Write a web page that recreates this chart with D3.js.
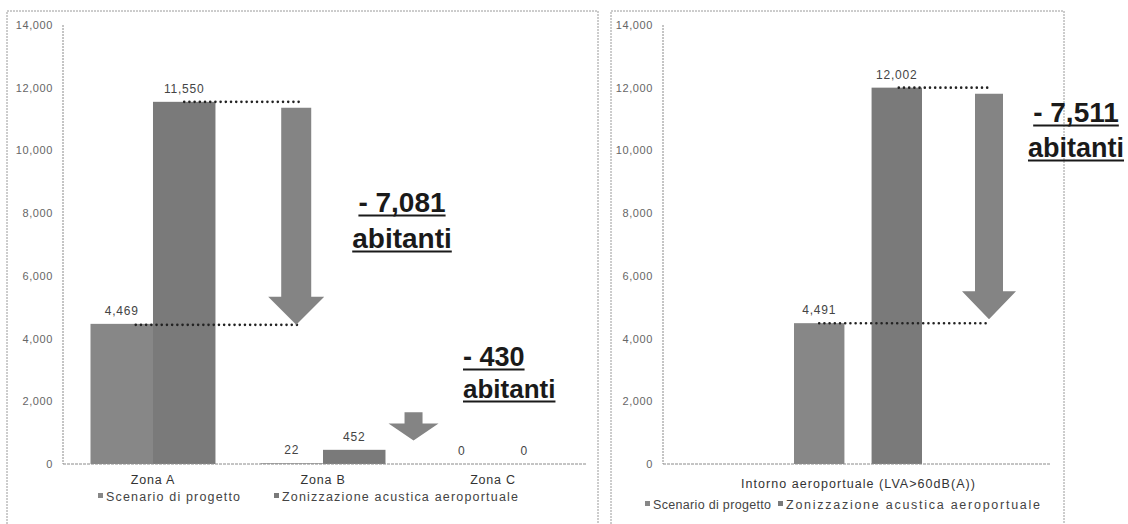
<!DOCTYPE html>
<html>
<head>
<meta charset="utf-8">
<script src="https://cdn.jsdelivr.net/npm/d3@7"></script>
<style>
  html, body { margin: 0; padding: 0; background: #ffffff; }
  svg { display: block; font-family: "Liberation Sans", Arial, sans-serif; }
</style>
</head>
<body>
<svg id="chart" width="1128" height="524"></svg>
<script>
// ---------------- DATA ----------------
const seriesNames = ["Scenario di progetto", "Zonizzazione acustica aeroportuale"];

const zoneCategories = ["Zona A", "Zona B", "Zona C"];
const zoneScenario   = [4469, 22, 0];
const zoneZonizz     = [11550, 452, 0];

const airportCategories = ["Intorno aeroportuale (LVA>60dB(A))"];
const airportScenario   = [4491];
const airportZonizz     = [12002];

const yTickValues = [0, 2000, 4000, 6000, 8000, 10000, 12000, 14000];
const yMax = 14000;

const deltaLabels = ["- 7,081", "- 430", "- 7,511"];
const deltaUnit = "abitanti";
// small decorative arrow for Zona B (value range it spans)
const smallArrowValues = [1650, 750];

// ---------------- STYLE ----------------
const colScenario = "#878787";
const colZonizz   = "#7a7a7a";
const colArrow    = "#848484";
const colAxisTxt  = "#666";
const fmt = d3.format(",");

const svg = d3.select("#chart");

// panel frames (dotted, scanned look)
function frame(x0, x1, yTop, yBot) {
  svg.append("path")
    .attr("d", `M${x0},${yBot} L${x0},${yTop} L${x1},${yTop} L${x1},${yBot}`)
    .attr("fill", "none").attr("stroke", "#9a9a9a").attr("stroke-width", 1)
    .attr("stroke-dasharray", "2,1");
}
frame(7, 598, 11, 524);
frame(611, 1064, 11, 524);

const y = d3.scaleLinear().domain([0, yMax]).range([464, 25]);

function drawPanel(cfg) {
  const g = svg.append("g");
  const x0 = cfg.x0, x1 = cfg.x1;

  // y axis
  const ax = g.append("g").attr("transform", `translate(${cfg.axisX},0)`)
    .call(d3.axisLeft(y).tickValues(yTickValues).tickSize(0).tickPadding(10).tickFormat(fmt));
  ax.select(".domain").remove();
  ax.selectAll("text").attr("font-size", 11).attr("fill", colAxisTxt)
    .attr("font-family", "Liberation Sans, Arial, sans-serif").attr("letter-spacing", 0.6);
  g.append("line").attr("x1", cfg.axisX).attr("x2", cfg.axisX)
    .attr("y1", y(yMax)).attr("y2", y(0))
    .attr("stroke", "#8a8a8a").attr("stroke-width", 1).attr("stroke-dasharray", "2,1");

  // bars
  const rows = cfg.categories.map((c, i) => ({ cat: c, vals: [cfg.s1[i], cfg.s2[i]] }));
  const cols = [colScenario, colZonizz];
  const grp = g.selectAll(".cat").data(rows).join("g")
    .attr("transform", d => `translate(${x0(d.cat)},0)`);
  grp.selectAll("rect").data(d => d.vals.map((v, k) => ({ v, k }))).join("rect")
    .attr("x", d => x1(d.k)).attr("width", x1.bandwidth())
    .attr("y", d => y(d.v)).attr("height", d => y(0) - y(d.v))
    .attr("fill", d => cols[d.k]);
  grp.selectAll("text.val").data(d => d.vals.map((v, k) => ({ v, k }))).join("text")
    .attr("class", "val")
    .attr("x", d => x1(d.k) + x1.bandwidth() / 2)
    .attr("y", d => y(d.v) - 9)
    .attr("text-anchor", "middle").attr("font-size", 12).attr("fill", "#444")
    .attr("letter-spacing", 0.8)
    .text(d => fmt(d.v));

  // x axis baseline
  g.append("line").attr("x1", cfg.axisX).attr("x2", cfg.baseEnd)
    .attr("y1", y(0)).attr("y2", y(0))
    .attr("stroke", "#8a8a8a").attr("stroke-width", 1).attr("stroke-dasharray", "3,1");

  const xa = g.append("g").attr("transform", `translate(0,${y(0)})`)
    .call(d3.axisBottom(x0).tickSize(0).tickPadding(11));
  xa.select(".domain").remove();
  xa.selectAll("text").attr("font-size", 12.5).attr("fill", "#333")
    .attr("font-family", "Liberation Sans, Arial, sans-serif")
    .attr("dy", cfg.labelDy);
  if (cfg.labelLen) {
    xa.selectAll("text").attr("textLength", cfg.labelLen).attr("lengthAdjust", "spacing");
  } else {
    xa.selectAll("text").attr("letter-spacing", 0.8);
  }

  // legend
  const lg = g.append("g").attr("transform", `translate(0,${cfg.legendY})`);
  cfg.legendX.forEach((lx, k) => {
    lg.append("rect").attr("x", lx).attr("y", -4).attr("width", 5).attr("height", 5)
      .attr("fill", cols[k]);
    lg.append("text").attr("x", lx + 8).attr("y", 4)
      .attr("font-size", 12.5).attr("fill", "#444")
      .attr("textLength", cfg.legendLen[k]).attr("lengthAdjust", "spacing")
      .text(seriesNames[k]);
  });
  return g;
}

function dotted(x1p, x2p, yy) {
  svg.append("line").attr("x1", x1p).attr("x2", x2p).attr("y1", yy).attr("y2", yy)
    .attr("stroke", "#222").attr("stroke-width", 2.6)
    .attr("stroke-linecap", "round").attr("stroke-dasharray", "0,5.2");
}

function arrow(cx, yTop, yTip, shaftW, headW, headH) {
  const s = shaftW / 2, h = headW / 2, yh = yTip - headH;
  svg.append("path")
    .attr("d", `M${cx - s},${yTop} L${cx + s},${yTop} L${cx + s},${yh} L${cx + h},${yh} L${cx},${yTip} L${cx - h},${yh} L${cx - s},${yh} Z`)
    .attr("fill", colArrow);
}

function bigLabel(x, yBase, txt, size, anchor) {
  const t = svg.append("text").attr("x", x).attr("y", yBase)
    .attr("font-size", size).attr("font-weight", "bold").attr("fill", "#1a1a1a")
    .attr("text-anchor", anchor).text(txt);
  const w = t.node().getComputedTextLength();
  const left = anchor === "middle" ? x - w / 2 : x;
  svg.append("line").attr("x1", left).attr("x2", left + w)
    .attr("y1", yBase + 3.5).attr("y2", yBase + 3.5)
    .attr("stroke", "#1a1a1a").attr("stroke-width", 2);
}

// ---------------- LEFT PANEL ----------------
const xL0 = d3.scaleBand().domain(zoneCategories).range([65, 581])
  .paddingInner(0.265).paddingOuter(0.15);
const xL1 = d3.scaleBand().domain([0, 1]).range([0, xL0.bandwidth()]).padding(0);
drawPanel({
  categories: zoneCategories, s1: zoneScenario, s2: zoneZonizz,
  x0: xL0, x1: xL1, axisX: 63, baseEnd: 586, labelDy: "0.71em",
  legendY: 497, legendX: [98, 274], legendLen: [134, 236]
});

// ---------------- RIGHT PANEL ----------------
const rRange = [663, 1053], pairW = 128;
const xR0 = d3.scaleBand().domain(airportCategories).range(rRange)
  .paddingInner(0).paddingOuter(((rRange[1] - rRange[0]) / pairW - 1) / 2);
const xR1 = d3.scaleBand().domain([0, 1]).range([0, xR0.bandwidth()]).paddingInner(0.35).paddingOuter(0);
drawPanel({
  categories: airportCategories, s1: airportScenario, s2: airportZonizz,
  x0: xR0, x1: xR1, axisX: 663, baseEnd: 1050, labelDy: "1.0em", labelLen: 234,
  legendY: 505, legendX: [645, 778], legendLen: [118, 254]
});

// ---------------- ANNOTATIONS ----------------
// Left: Zona A difference
const aX = xL0("Zona A");
const aBar1C = aX + xL1(0) + xL1.bandwidth() / 2;
const aBar2C = aX + xL1(1) + xL1.bandwidth() / 2;
const aArrowX = aX + xL0.step() * 1.21;
dotted(aBar2C, aArrowX + 5, y(zoneZonizz[0]));
dotted(aBar1C + 14, aArrowX + 5, y(zoneScenario[0]) + 1);
arrow(aArrowX, y(zoneZonizz[0]) + 6, y(zoneScenario[0]) + 1, 30, 56, 28);
bigLabel(402, 212, deltaLabels[0], 28, "middle");
bigLabel(402, 248, deltaUnit, 28, "middle");

// Left: Zona B small arrow
const bArrowX = xL0("Zona B") + xL0.step() * 0.9;
arrow(bArrowX, y(smallArrowValues[0]), y(smallArrowValues[1]), 18, 50, 17);
bigLabel(463, 366, deltaLabels[1], 27, "start");
bigLabel(463, 398, deltaUnit, 26, "start");

// Right panel difference
const rX = xR0(airportCategories[0]);
const rBar1C = rX + xR1(0) + xR1.bandwidth() / 2;
const rBar2C = rX + xR1(1) + xR1.bandwidth() / 2;
const rArrowX = rX + xR1(1) + xR1.bandwidth() + 67;
dotted(rBar2C + 2, rArrowX, y(airportZonizz[0]));
dotted(rBar1C, rArrowX, y(airportScenario[0]));
arrow(rArrowX, y(airportZonizz[0]) + 6, y(airportScenario[0]) - 4, 28, 54, 28);
bigLabel(1076, 122, deltaLabels[2], 28, "middle");
bigLabel(1076, 157, deltaUnit, 27, "middle");
</script>
</body>
</html>
